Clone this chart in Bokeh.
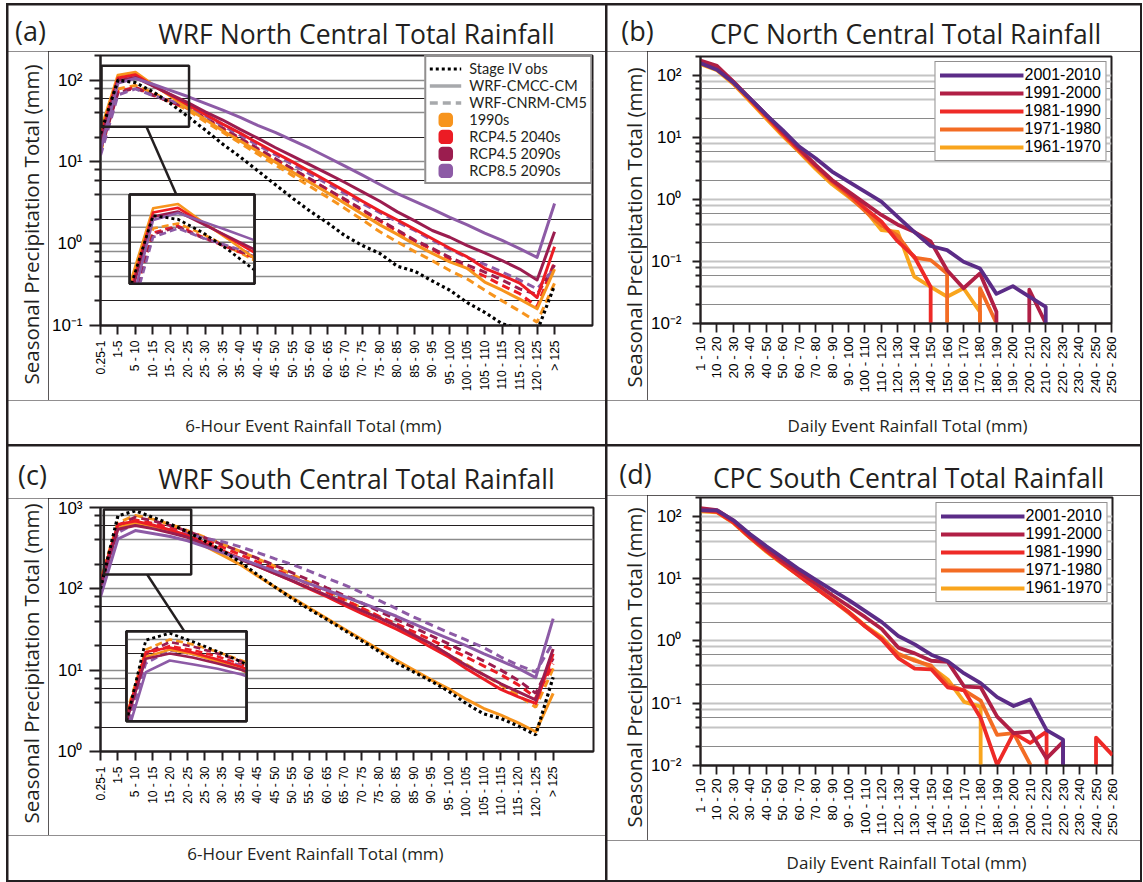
import math
from bokeh.plotting import figure
from bokeh.models import Range1d, FixedTicker, Grid, Legend, LegendItem
from bokeh.core.properties import value
from bokeh.layouts import row, column
from bokeh.embed import file_html
from bokeh.resources import INLINE

NAN = float("nan")
INK = "#231f20"
HEAD_FONT = "Open Sans"
KEY_FONT = "Lato"
TICK_FONT = "Liberation Sans"

# ------------------------------------------------------------------ bins
wrf_bins = ["0.25-1", "1-5", "5 - 10", "10 - 15", "15 - 20", "20 - 25", "25 - 30",
            "30 - 35", "35 - 40", "40 - 45", "45 - 50", "50 - 55", "55 - 60", "60 - 65",
            "65 - 70", "70 - 75", "75 - 80", "80 - 85", "85 - 90", "90 - 95", "95 - 100",
            "100 - 105", "105 - 110", "110 - 115", "115 - 120", "120 - 125", "> 125"]

cpc_bins = ["1 - 10", "10 - 20", "20 - 30", "30 - 40", "40 - 50", "50 - 60", "60 - 70",
            "70 - 80", "80 - 90", "90 - 100", "100 - 110", "110 - 120", "120 - 130",
            "130 - 140", "140 - 150", "150 - 160", "160 - 170", "170 - 180", "180 - 190",
            "190 - 200", "200 - 210", "210 - 220", "220 - 230", "230 - 240", "240 - 250",
            "250 - 260"]

# ------------------------------------------------ WRF North Central (mm)
north_stage4 = [22, 100, 93, 72, 52, 36, 24.5, 16.5, 11.5, 7.8, 5.3, 3.6, 2.5, 1.8, 1.25,
                0.95, 0.76, 0.53, 0.46, 0.35, 0.27, 0.19, 0.145, 0.105, 0.092, 0.085, 0.31]
north_cmcc_1990s = [24, 115, 125, 88, 64, 45, 33, 24, 18, 13.5, 10, 7.5, 5.6, 4.2, 3.1, 2.3,
                    1.7, 1.3, 0.98, 0.76, 0.6, 0.5, 0.34, 0.27, 0.21, 0.16, 0.49]
north_cmcc_rcp45_2040s = [20, 106, 116, 86, 66, 50, 38, 29, 22.5, 17, 13, 10, 7.6, 5.8, 4.4,
                          3.3, 2.5, 1.95, 1.5, 1.15, 0.88, 0.69, 0.5, 0.41, 0.33, 0.22, 0.92]
north_cmcc_rcp45_2090s = [18, 98, 108, 85, 67, 53, 41, 32.5, 25, 19.5, 15, 11.8, 9.2, 7.2, 5.6,
                          4.3, 3.3, 2.45, 1.9, 1.45, 1.2, 0.95, 0.77, 0.62, 0.49, 0.36, 1.4]
north_cmcc_rcp85_2090s = [14, 92, 105, 89, 75, 63, 52, 43, 35, 28, 23, 18.3, 14.6, 11.4, 8.9,
                          6.9, 5.3, 4.1, 3.3, 2.65, 2.1, 1.7, 1.35, 1.1, 0.87, 0.68, 3.1]
north_cnrm_1990s = [13, 78, 86, 70, 55, 43, 31, 23, 17, 12.5, 9.2, 6.8, 5.0, 3.7, 2.7, 1.95,
                    1.4, 1.05, 0.8, 0.62, 0.47, 0.37, 0.27, 0.2, 0.15, 0.11, 0.33]
north_cnrm_rcp45_2040s = [15, 72, 82, 66, 54, 45, 34, 25.5, 19, 14.3, 10.8, 8.1, 6.1, 4.6, 3.4,
                          2.55, 1.9, 1.42, 1.08, 0.85, 0.65, 0.5, 0.4, 0.31, 0.245, 0.17, 0.6]
north_cnrm_rcp45_2090s = [14, 70, 80, 65, 55, 46, 34.5, 26, 19.5, 14.6, 11, 8.2, 6.2, 4.6, 3.5,
                          2.6, 1.95, 1.47, 1.1, 0.88, 0.68, 0.55, 0.45, 0.36, 0.28, 0.24, 0.55]
north_cnrm_rcp85_2090s = [12, 66, 78, 65, 56, 48, 36.5, 27.8, 21.2, 16.1, 12.3, 9.3, 7.1, 5.4,
                          4.1, 3.1, 2.4, 1.85, 1.45, 1.1, 0.85, 0.68, 0.56, 0.45, 0.36, 0.28, 0.5]

# ------------------------------------------------ WRF South Central (mm)
south_stage4 = [100, 790, 910, 760, 625, 505, 385, 295, 215, 150, 106, 76, 56, 42, 31, 23, 17,
                12.3, 9.5, 7.3, 5.5, 3.9, 2.9, 2.55, 2.05, 1.6, 8.2]
south_cmcc_1990s = [130, 560, 650, 590, 510, 430, 335, 260, 200, 145, 106, 78, 58, 43, 32, 24,
                    17.8, 13.2, 10, 7.6, 5.9, 4.4, 3.4, 2.8, 2.25, 1.75, 5.2]
south_cmcc_rcp45_2040s = [120, 620, 680, 610, 530, 455, 365, 295, 238, 192, 155, 125, 100, 80,
                          63, 50, 40, 32, 25, 19, 14.5, 10.5, 7.8, 5.8, 4.7, 3.9, 15.9]
south_cmcc_rcp45_2090s = [110, 540, 600, 550, 490, 430, 350, 285, 232, 190, 155, 126, 102, 83,
                          67, 54, 44, 35, 27, 21, 15.5, 11.5, 8.8, 6.8, 5.4, 4.3, 18.2]
south_cmcc_rcp85_2090s = [80, 410, 520, 480, 440, 390, 330, 280, 236, 198, 165, 138, 115, 96,
                          80, 67, 56, 46, 37, 30, 24.5, 20, 16, 13, 10.5, 8.1, 43]
south_cnrm_1990s = [130, 650, 800, 720, 620, 520, 430, 355, 290, 235, 190, 150, 120, 95, 75, 58,
                    45, 35, 27, 20.5, 15.5, 11.8, 8.8, 6.6, 4.9, 3.5, 10.5]
south_cnrm_rcp45_2040s = [105, 590, 700, 640, 565, 480, 400, 325, 265, 215, 175, 140, 113, 91,
                          73, 58, 46, 37, 29.5, 23.5, 18.5, 14.5, 11.3, 8.8, 6.6, 4.6, 12]
south_cnrm_rcp45_2090s = [100, 600, 760, 690, 600, 510, 425, 350, 290, 238, 195, 158, 128, 103,
                          83, 67, 53, 42, 33.5, 26.5, 21, 16.5, 13, 10, 7.5, 5.2, 14]
south_cnrm_rcp85_2090s = [90, 490, 640, 590, 530, 470, 420, 380, 330, 280, 235, 200, 165, 135,
                          112, 90, 72, 57, 45, 36, 29, 23.5, 19, 14.5, 11.5, 9.5, 22]

# ---------------------------- CPC daily totals (mm); None = no rainfall in that bin
cpc_north_2001_2010 = [156, 122, 76, 42.5, 23, 13, 7.1, 4.6, 2.8, 1.93, 1.33, 0.92, 0.52, 0.30,
                       0.177, 0.152, 0.099, 0.077, 0.030, 0.040, 0.027, 0.0186,
                       None, None, None, None]
cpc_north_1991_2000 = [172, 141, 79, 42.5, 23, 12.3, 6.6, 3.6, 2.05, 1.33, 0.86, 0.56, 0.39, 0.30,
                       0.21, 0.072, 0.037, 0.064, 0.0154, None, 0.035, 0.0101,
                       None, None, None, None]
cpc_north_1981_1990 = [165, 132, 78, 41, 22, 11.5, 6.3, 3.5, 2.0, 1.25, 0.72, 0.44, 0.21, 0.12,
                       0.039, None, None, None, None, None, None, None, None, None, None, None]
cpc_north_1971_1980 = [155, 125, 74, 40, 21, 11, 6.0, 3.3, 1.9, 1.15, 0.65, 0.38, 0.26, 0.115,
                       0.105, 0.064, None, 0.037, 0.0101, None, None, None, None, None, None, None]
cpc_north_1961_1970 = [150, 120, 72, 38, 20, 10.5, 5.8, 3.1, 1.75, 1.1, 0.68, 0.32, 0.30, 0.057,
                       0.039, 0.027, 0.037, 0.0154, None, None, None, None, None, None, None, None]

cpc_south_2001_2010 = [124, 124, 86, 52, 33, 21.5, 14, 9.5, 6.5, 4.5, 3.0, 2.0, 1.2, 0.88, 0.6,
                       0.47, 0.3, 0.21, 0.125, 0.09, 0.115, 0.037, 0.026, None, None, None]
cpc_south_1991_2000 = [135, 125, 85, 50, 30, 19, 12.5, 8.3, 5.4, 3.6, 2.4, 1.55, 0.78, 0.63, 0.48,
                       0.46, 0.185, 0.18, 0.061, 0.033, 0.035, 0.013, 0.024, None, None, None]
cpc_south_1981_1990 = [125, 118, 80, 46, 28, 17.5, 11, 7.0, 4.5, 2.9, 1.7, 1.05, 0.53, 0.36, 0.35,
                       0.18, 0.16, 0.058, 0.0102, 0.033, 0.023, 0.035, None, None, 0.028, 0.0147]
cpc_south_1971_1980 = [125, 120, 80, 46, 28, 17.5, 11, 7.0, 4.5, 2.8, 1.7, 1.1, 0.62, 0.48, 0.4,
                       0.2, 0.16, 0.11, 0.031, 0.033, 0.0105, None, None, None, None, None]
cpc_south_1961_1970 = [120, 115, 78, 45, 27, 17, 11, 7.0, 4.6, 2.9, 1.75, 1.15, 0.6, 0.5, 0.38,
                       0.24, 0.105, 0.088, None, None, None, None, None, None, None, None]

SCENARIOS = ["1990s", "RCP4.5 2040s", "RCP4.5 2090s", "RCP8.5 2090s"]
SCENARIO_COLORS = ["#F7941D", "#EC1C24", "#9B1D4F", "#8D5BA6"]
DECADES = ["2001-2010", "1991-2000", "1981-1990", "1971-1980", "1961-1970"]
DECADE_COLORS = ["#5B2C87", "#B01F45", "#EE2A27", "#F36C24", "#F9A51D"]

# ------------------------------------------------ panel geometry (px)
# W x H panel; head/foot = title strip and x-label strip; side = y-label strip;
# left/right/top = borders of the chart canvas around a fw x fh frame
GEO_A = dict(W=597, H=439, head=46, foot=44, side=40, left=51, right=13, top=4, fw=493, fh=270)
GEO_B = dict(W=533, H=439, head=46, foot=44, side=40, left=53, right=29, top=5, fw=411, fh=267)
GEO_C = dict(W=597, H=434, head=52, foot=45, side=40, left=52, right=12, top=9, fw=493, fh=244)
GEO_D = dict(W=533, H=434, head=49, foot=40, side=40, left=52, right=28, top=2, fw=413, fh=268)

TITLE_PX = 26.5
TAG_PX = 27
YLAB_PX = 20.5
XLAB_PX = 17

SUPERSCRIPT = str.maketrans("-0123456789", "\u207b\u2070\u00b9\u00b2\u00b3\u2074\u2075\u2076\u2077\u2078\u2079")


def power_label(v):
    return "10" + str(int(round(math.log10(v)))).translate(SUPERSCRIPT)


def grid_values(mults):
    return [m * 10.0 ** e for e in range(-3, 4) for m in mults]


DECADE_TICKS = [10.0 ** e for e in range(-3, 4)]
MINOR_TICKS = grid_values((2, 4, 6, 8))


def free_frame(p):
    # keep each canvas's own borders instead of lining frames up across the layout
    if "frame_align" in p.properties():
        p.frame_align = False


def text_strip(width, height, items):
    """A plain canvas holding text only; item positions are pixels from its top-left."""
    p = figure(width=width, height=height, title=None, x_range=Range1d(0, width),
               y_range=Range1d(0, height), x_axis_location=None, y_axis_location=None,
               output_backend="svg", toolbar_location=None, min_border=0)
    free_frame(p)
    p.grid.visible = False
    p.outline_line_color = None
    p.background_fill_color = "white"
    p.border_fill_color = "white"
    for x, y_down, text, size, angle in items:
        p.text(x=[x], y=[height - y_down], text=[text], text_font=value(HEAD_FONT),
               text_font_size=value(f"{size}px"), text_align="center",
               text_baseline="middle", angle=angle, text_color=INK)
    return p


def chart_figure(geo, x_end, y_lo, y_hi):
    mw = geo["W"] - geo["side"]
    mh = geo["H"] - geo["head"] - geo["foot"]
    p = figure(width=mw, height=mh, title=None,
               x_range=Range1d(0, x_end), y_range=Range1d(y_lo, y_hi), y_axis_type="log",
               output_backend="svg", toolbar_location=None,
               min_border_left=geo["left"], min_border_top=geo["top"],
               min_border_right=geo["right"],
               min_border_bottom=mh - geo["top"] - geo["fh"])
    free_frame(p)
    p.background_fill_color = "white"
    p.border_fill_color = "white"
    p.outline_line_color = INK
    p.outline_line_width = 2
    p.xgrid.visible = False
    p.ygrid.visible = False
    return p


def style_axes(p, bins, x_px, x_standoff, y_px, y_standoff, major_out, minor_out, lw):
    xa = p.xaxis[0]
    xa.ticker = FixedTicker(ticks=list(range(len(bins))))
    xa.major_label_overrides = {i: b for i, b in enumerate(bins)}
    xa.major_label_orientation = math.pi / 2
    xa.major_label_text_font = TICK_FONT
    xa.major_label_text_font_size = f"{x_px}px"
    xa.major_label_text_color = "black"
    xa.major_label_standoff = x_standoff
    xa.major_tick_out = 9
    xa.major_tick_in = 0
    xa.minor_tick_out = 0
    xa.minor_tick_in = 0
    ya = p.yaxis[0]
    ya.ticker = FixedTicker(ticks=DECADE_TICKS, minor_ticks=MINOR_TICKS)
    ya.major_label_overrides = {v: power_label(v) for v in DECADE_TICKS}
    ya.major_label_text_font = TICK_FONT
    ya.major_label_text_font_size = f"{y_px}px"
    ya.major_label_text_color = "black"
    ya.major_label_standoff = y_standoff
    ya.major_tick_out = major_out
    ya.major_tick_in = 0
    ya.minor_tick_out = minor_out
    ya.minor_tick_in = 0
    for ax in (xa, ya):
        ax.axis_line_color = INK
        ax.axis_line_width = lw
        ax.major_tick_line_color = INK
        ax.major_tick_line_width = lw
        ax.minor_tick_line_color = INK
        ax.minor_tick_line_width = lw


def add_grids(p, light, dark):
    for mults, (color, width) in (((1, 4, 8), light), ((2, 6), dark)):
        p.add_layout(Grid(dimension=1, ticker=FixedTicker(ticks=grid_values(mults)),
                          grid_line_color=color, grid_line_width=width))


def clip_segment(a, b, rect):
    (x0, y0), (x1, y1) = a, b
    xmin, xmax, ymin, ymax = rect
    dx, dy = x1 - x0, y1 - y0
    t0, t1 = 0.0, 1.0
    for pp, qq in ((-dx, x0 - xmin), (dx, xmax - x0), (-dy, y0 - ymin), (dy, ymax - y0)):
        if pp == 0:
            if qq < 0:
                return None
        else:
            t = qq / pp
            if pp < 0:
                if t > t1:
                    return None
                t0 = max(t0, t)
            else:
                if t < t0:
                    return None
                t1 = min(t1, t)
    return (x0 + t0 * dx, y0 + t0 * dy), (x0 + t1 * dx, y0 + t1 * dy)


def inset_scale(zoom, box):
    zx0, zx1, zy0, zy1 = zoom
    bx0, bx1, by0, by1 = box
    lz0, lz1, lb0, lb1 = (math.log10(v) for v in (zy0, zy1, by0, by1))
    fx = (bx1 - bx0) / (zx1 - zx0)
    fy = (lb1 - lb0) / (lz1 - lz0)
    return (lambda x: bx0 + (x - zx0) * fx), (lambda ly: lb0 + (ly - lz0) * fy), (bx0, bx1, lb0, lb1)


def to_inset(xs, ys, zoom, box):
    """Magnify a series into the inset box, clipped to the box edges."""
    mx, my, rect = inset_scale(zoom, box)
    pts = [(mx(x), my(math.log10(y))) for x, y in zip(xs, ys)]
    out_x, out_y, last = [], [], None
    for a, b in zip(pts[:-1], pts[1:]):
        seg = clip_segment(a, b, rect)
        if seg is None:
            last = None
            continue
        s, e = seg
        if last is None or abs(last[0] - s[0]) > 1e-9 or abs(last[1] - s[1]) > 1e-9:
            if out_x:
                out_x.append(NAN)
                out_y.append(NAN)
            out_x.append(s[0])
            out_y.append(10 ** s[1])
        out_x.append(e[0])
        out_y.append(10 ** e[1])
        last = e
    return out_x, out_y


def assemble(geo, chart, head_items, side_items, foot_items):
    mh = geo["H"] - geo["head"] - geo["foot"]
    head = text_strip(geo["W"], geo["head"], head_items)
    side = text_strip(geo["side"], mh, side_items)
    foot = text_strip(geo["W"], geo["foot"], foot_items)
    return column(head, row(side, chart), foot)


def wrf_chart(geo, x_end, y_lo, y_hi, obs, cmcc, cnrm, zoom, box, link, with_legend):
    p = chart_figure(geo, x_end, y_lo, y_hi)
    style_axes(p, wrf_bins, 12, 6, 17, 7, 11, 6, 2)
    light, dark = ("#8c8c8c", 1.6), (INK, 1)
    add_grids(p, light, dark)
    x = list(range(len(obs)))

    for s, c in zip(cnrm, SCENARIO_COLORS):
        p.line(x, s, line_color=c, line_width=3, line_dash="8 5")
    for s, c in zip(cmcc, SCENARIO_COLORS):
        p.line(x, s, line_color=c, line_width=3, line_join="round")
    obs_r = p.line(x, obs, line_color="black", line_width=3.2, line_dash="3 3")

    # zoom window, leader line and the magnified inset
    zx0, zx1, zy0, zy1 = zoom
    bx0, bx1, by0, by1 = box
    p.quad(left=[zx0], right=[zx1], bottom=[zy0], top=[zy1], fill_color=None,
           line_color=INK, line_width=2.5)
    p.segment(x0=[link[0]], y0=[zy0], x1=[link[1]], y1=[by1], line_color=INK, line_width=2.5)
    p.quad(left=[bx0], right=[bx1], bottom=[by0], top=[by1], fill_color="white",
           line_color=INK, line_width=2.5)
    mx, my, _ = inset_scale(zoom, box)
    for mults, (color, width) in (((1, 4, 8), light), ((2, 6), dark)):
        gy = [10 ** my(math.log10(g)) for g in grid_values(mults) if zy0 <= g <= zy1]
        p.segment(x0=[bx0] * len(gy), x1=[bx1] * len(gy), y0=gy, y1=gy,
                  line_color=color, line_width=width)
    for s, c in zip(cnrm, SCENARIO_COLORS):
        ix, iy = to_inset(x, s, zoom, box)
        p.line(ix, iy, line_color=c, line_width=2.6, line_dash="7 4")
    for s, c in zip(cmcc, SCENARIO_COLORS):
        ix, iy = to_inset(x, s, zoom, box)
        p.line(ix, iy, line_color=c, line_width=2.6, line_join="round")
    ix, iy = to_inset(x, obs, zoom, box)
    p.line(ix, iy, line_color="black", line_width=2.8, line_dash="3 3")
    p.quad(left=[bx0], right=[bx1], bottom=[by0], top=[by1], fill_color=None,
           line_color=INK, line_width=2.5)

    if with_legend:
        # legend keys: renderers with a single undefined point, so only the key is drawn
        cm_key = p.line(x=[NAN], y=[NAN], line_color="#a7a9ac", line_width=3.5)
        cn_key = p.line(x=[NAN], y=[NAN], line_color="#a7a9ac", line_width=3.5, line_dash="8 5")
        items = [LegendItem(label="Stage IV obs", renderers=[obs_r]),
                 LegendItem(label="WRF-CMCC-CM", renderers=[cm_key]),
                 LegendItem(label="WRF-CNRM-CM5", renderers=[cn_key])]
        for name, c in zip(SCENARIOS, SCENARIO_COLORS):
            sq = p.scatter(x=[NAN], y=[NAN], marker="square", size=6, fill_color=c,
                           line_color=c, line_width=8.5, line_join="round")
            items.append(LegendItem(label=name, renderers=[sq]))
        lg = Legend(items=items, location="top_right", margin=0, padding=3, spacing=0,
                    glyph_width=32, glyph_height=15, label_height=15, label_standoff=8,
                    label_text_font=KEY_FONT, label_text_font_size="14.5px",
                    label_text_color=INK, border_line_color=INK, border_line_width=2,
                    background_fill_color="white", background_fill_alpha=1)
        p.add_layout(lg)
    return p


def gap_path(values, floor):
    """Series path; a bin with no rainfall drops the line straight to the axis."""
    xs, ys, prev = [], [], None
    for i, v in enumerate(values):
        if v is None:
            if prev is not None:
                xs += [i - 1, NAN]
                ys += [floor, NAN]
        else:
            if prev is None and i > 0:
                xs.append(i)
                ys.append(floor)
            xs.append(i)
            ys.append(v)
        prev = v
    return xs, ys


def cpc_chart(geo, series):
    p = chart_figure(geo, 25, 0.01, 200)
    style_axes(p, cpc_bins, 13.5, 4, 17, 11, 8, 5, 1.8)
    add_grids(p, ("#c4c4c4", 2), ("#8a8a8a", 1.2))
    rends = {}
    for name, c in reversed(list(zip(DECADES, DECADE_COLORS))):
        xs, ys = gap_path(series[name], 1e-4)
        rends[name] = p.line(xs, ys, line_color=c, line_width=3.8, line_join="round")
    lg = Legend(items=[LegendItem(label=n, renderers=[rends[n]]) for n in DECADES],
                location="top_right", margin=5, padding=4, spacing=-4,
                glyph_width=84, glyph_height=14, label_height=14, label_standoff=1,
                label_text_font=TICK_FONT, label_text_font_size="16px",
                label_text_color="black", border_line_color=INK, border_line_width=1.5,
                background_fill_color="white", background_fill_alpha=1)
    p.add_layout(lg)
    return p


YLAB = "Seasonal Precipitation Total (mm)"
XLAB_WRF = "6-Hour Event Rainfall Total (mm)"
XLAB_CPC = "Daily Event Rainfall Total (mm)"
UP = math.pi / 2

chart_a = wrf_chart(
    GEO_A, 493 / 17.5, 0.1, 200, north_stage4,
    [north_cmcc_1990s, north_cmcc_rcp45_2040s, north_cmcc_rcp45_2090s, north_cmcc_rcp85_2090s],
    [north_cnrm_1990s, north_cnrm_rcp45_2040s, north_cnrm_rcp45_2090s, north_cnrm_rcp85_2090s],
    zoom=(0.06, 5.07, 27, 150), box=(1.67, 8.82, 0.324, 4.0), link=(2.63, 4.34),
    with_legend=True)
panel_a = assemble(
    GEO_A, chart_a,
    [(22, 25, "(a)", TAG_PX, 0),
     (348, 28, "WRF North Central Total Rainfall", TITLE_PX, 0)],
    [(22, 173, YLAB, YLAB_PX, UP)],
    [(305, 25, XLAB_WRF, XLAB_PX, 0)])

chart_c = wrf_chart(
    GEO_C, 493 / 17.41, 1, 1000, south_stage4,
    [south_cmcc_1990s, south_cmcc_rcp45_2040s, south_cmcc_rcp45_2090s, south_cmcc_rcp85_2090s],
    [south_cnrm_1990s, south_cnrm_rcp45_2040s, south_cnrm_rcp45_2090s, south_cnrm_rcp85_2090s],
    zoom=(0.19, 5.21, 150, 945), box=(1.49, 8.39, 2.36, 30), link=(2.68, 4.82),
    with_legend=False)
panel_c = assemble(
    GEO_C, chart_c,
    [(24, 28, "(c)", TAG_PX, 0),
     (348, 32, "WRF South Central Total Rainfall", TITLE_PX, 0)],
    [(22, 165, YLAB, YLAB_PX, UP)],
    [(307, 18, XLAB_WRF, XLAB_PX, 0)])

chart_b = cpc_chart(GEO_B, {"2001-2010": cpc_north_2001_2010, "1991-2000": cpc_north_1991_2000,
                            "1981-1990": cpc_north_1981_1990, "1971-1980": cpc_north_1971_1980,
                            "1961-1970": cpc_north_1961_1970})
panel_b = assemble(
    GEO_B, chart_b,
    [(30, 25, "(b)", TAG_PX, 0),
     (298, 28, "CPC North Central Total Rainfall", TITLE_PX, 0)],
    [(26, 176, YLAB, YLAB_PX, UP)],
    [(300, 25, XLAB_CPC, XLAB_PX, 0)])

chart_d = cpc_chart(GEO_D, {"2001-2010": cpc_south_2001_2010, "1991-2000": cpc_south_1991_2000,
                            "1981-1990": cpc_south_1981_1990, "1971-1980": cpc_south_1971_1980,
                            "1961-1970": cpc_south_1961_1970})
panel_d = assemble(
    GEO_D, chart_d,
    [(28, 27, "(d)", TAG_PX, 0),
     (301, 31, "CPC South Central Total Rainfall", TITLE_PX, 0)],
    [(26, 172, YLAB, YLAB_PX, UP)],
    [(299, 22, XLAB_CPC, XLAB_PX, 0)])

page = column(row(panel_a, panel_b, spacing=2), row(panel_c, panel_d, spacing=2), spacing=2,
              styles={"background-color": INK, "padding": "2px",
                      "margin-left": "6px", "margin-top": "3px"})

open("out.html", "w").write(file_html(page, INLINE))
